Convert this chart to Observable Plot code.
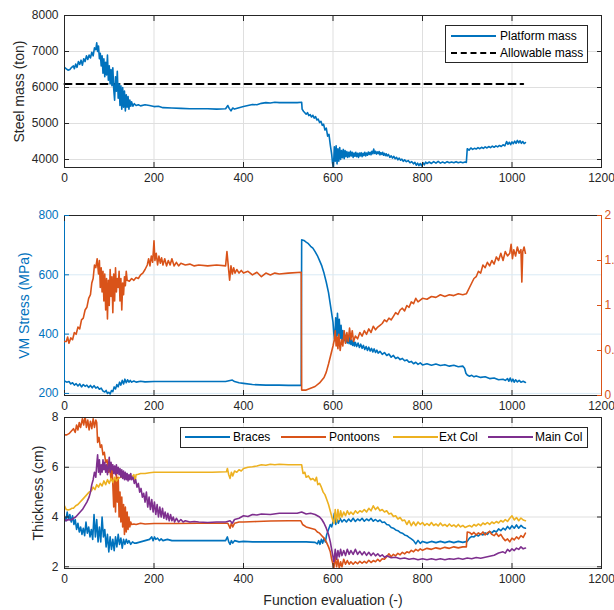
<!DOCTYPE html>
<html><head><meta charset="utf-8">
<script src="https://cdn.jsdelivr.net/npm/d3@7"></script>
<script src="https://cdn.jsdelivr.net/npm/@observablehq/plot@0.6"></script>
<style>
body{margin:0;background:#fff;font-family:"Liberation Sans",Arial,Helvetica,sans-serif;}
#wrap{position:relative;width:614px;height:610px;overflow:hidden;background:#fff;}
.panel{position:absolute;left:0;}
.legend{position:absolute;border:1px solid #262626;background:#fff;font-size:12px;color:#000;box-sizing:border-box;}
.legend .s{position:absolute;height:0;}
.legend .t{position:absolute;line-height:14px;white-space:nowrap;}
</style></head><body><div id="wrap"></div><script>
// ---------- data ----------
const xTicks = [0, 200, 400, 600, 800, 1000, 1200];
const massTicks = [4000, 5000, 6000, 7000, 8000];
const stressTicks = [200, 400, 600, 800];
const ratioTicks = [0, 0.5, 1, 1.5, 2];
const thickTicks = [2, 4, 6, 8];

const massNames = ["Platform mass", "Allowable mass"];
const allowableMass = 6100;
const allowableRange = [0, 1025];

const platformMass = [[0,6560],[4,6520],[8,6480],[12,6500],[16,6560],[20,6600],[22,6520],[25,6650],[28,6560],[31,6720],[34,6640],[37,6760],[40,6620],[43,6800],[46,6720],[49,6880],[52,6780],[55,6900],[58,6820],[61,6980],[64,6880],[67,7100],[70,7050],[72,7240],[74,7000],[76,7150],[78,6800],[80,6950],[82,6600],[84,6880],[86,6400],[88,6800],[90,6300],[92,6700],[94,6350],[96,6900],[98,6200],[100,6600],[102,6100],[104,6500],[106,6050],[108,6550],[110,5950],[112,5650],[114,6300],[116,5900],[118,6450],[120,5700],[122,6100],[124,5500],[126,6050],[128,5400],[130,6000],[132,5450],[134,5900],[136,5350],[138,5800],[140,5450],[142,5750],[144,5400],[146,5650],[148,5480],[150,5600],[153,5480],[156,5550],[160,5500],[165,5520],[170,5490],[180,5520],[190,5500],[200,5470],[210,5480],[220,5440],[240,5430],[260,5420],[280,5410],[300,5410],[320,5410],[340,5400],[360,5410],[365,5500],[368,5420],[372,5350],[376,5430],[380,5400],[390,5440],[400,5470],[410,5500],[420,5530],[430,5520],[440,5560],[450,5580],[460,5570],[470,5590],[480,5580],[500,5580],[520,5580],[530,5590],[531,5400],[534,5340],[537,5300],[540,5260],[543,5300],[546,5220],[549,5250],[552,5180],[555,5230],[558,5150],[561,5190],[564,5100],[567,5120],[570,5030],[573,5060],[576,4950],[579,4980],[582,4820],[585,4870],[588,4650],[591,4700],[594,4400],[597,4150],[599,3900],[601,3790],[603,4350],[605,3950],[607,4380],[609,3880],[611,4300],[613,3950],[615,4330],[617,4000],[619,4250],[621,4050],[623,4280],[625,4020],[627,4250],[629,4080],[631,4220],[633,4060],[635,4200],[637,4080],[639,4230],[641,4100],[643,4200],[645,4060],[647,4180],[649,4090],[651,4200],[653,4080],[655,4170],[657,4060],[659,4180],[661,4100],[663,4190],[665,4080],[667,4170],[669,4110],[671,4200],[673,4100],[675,4180],[677,4120],[679,4210],[681,4140],[683,4200],[685,4130],[687,4230],[689,4160],[691,4290],[693,4170],[695,4230],[697,4150],[699,4210],[701,4160],[703,4220],[705,4130],[707,4190],[709,4140],[711,4200],[713,4120],[715,4170],[717,4110],[719,4160],[721,4100],[724,4140],[727,4060],[730,4100],[733,4040],[736,4090],[739,4020],[742,4060],[745,3990],[748,4040],[751,3980],[754,4010],[757,3950],[760,3990],[764,3940],[768,3970],[772,3910],[776,3940],[780,3880],[783,3920],[786,3840],[789,3900],[792,3830],[795,3890],[798,3820],[801,3910],[804,3850],[807,3930],[810,3890],[815,3930],[820,3890],[825,3940],[830,3900],[835,3950],[840,3900],[845,3930],[850,3900],[855,3940],[860,3910],[865,3930],[870,3910],[875,3940],[880,3910],[885,3930],[890,3910],[895,3930],[898,3920],[900,4300],[904,4260],[908,4320],[912,4280],[916,4310],[920,4290],[924,4330],[928,4300],[932,4340],[936,4310],[940,4350],[944,4320],[948,4360],[952,4330],[956,4370],[960,4340],[964,4380],[968,4350],[972,4390],[976,4360],[980,4410],[984,4380],[988,4500],[991,4420],[994,4480],[997,4410],[1000,4490],[1003,4440],[1006,4510],[1009,4450],[1012,4530],[1015,4460],[1018,4520],[1021,4450],[1024,4500],[1027,4440],[1030,4470]];

const vmStress = [[0,242],[5,238],[10,240],[14,232],[18,236],[22,228],[26,233],[30,225],[34,232],[38,222],[42,230],[46,224],[50,228],[54,220],[58,227],[62,219],[66,226],[70,218],[74,222],[78,214],[82,218],[86,208],[90,205],[93,210],[96,200],[99,204],[102,198],[105,210],[108,206],[111,222],[114,215],[117,230],[120,222],[123,238],[126,228],[129,244],[132,232],[135,248],[138,236],[141,246],[144,238],[147,244],[150,238],[155,242],[160,238],[170,241],[180,239],[200,240],[240,240],[280,240],[320,240],[360,240],[375,245],[380,240],[390,236],[400,234],[420,230],[450,228],[480,228],[500,227],[529,227],[530,718],[535,716],[540,710],[545,705],[550,696],[555,690],[560,678],[565,665],[570,648],[575,630],[580,605],[585,575],[590,540],[595,490],[600,440],[602,400],[604,378],[606,455],[608,390],[610,470],[612,395],[614,450],[616,385],[618,430],[620,380],[622,412],[624,378],[626,400],[628,372],[630,395],[632,370],[634,388],[636,368],[638,392],[640,365],[642,380],[644,362],[646,376],[648,360],[650,372],[653,358],[656,370],[659,355],[662,366],[665,352],[668,362],[671,348],[674,358],[677,345],[680,356],[683,343],[686,352],[689,340],[692,350],[695,338],[698,346],[701,336],[705,342],[710,332],[715,338],[720,328],[725,333],[730,322],[735,328],[740,318],[745,322],[750,314],[755,318],[760,310],[765,313],[770,305],[775,308],[780,300],[785,305],[790,298],[795,303],[800,296],[810,300],[820,295],[830,299],[840,294],[850,297],[860,292],[870,295],[880,290],[890,292],[894,285],[897,268],[900,262],[905,258],[910,261],[915,256],[920,259],[930,254],[940,256],[950,250],[960,252],[970,246],[980,248],[985,244],[990,250],[993,241],[996,252],[999,240],[1002,248],[1005,238],[1008,246],[1012,239],[1016,244],[1020,238],[1025,241],[1030,237]];

const stressRatio = [[0,0.6],[4,0.6],[7,0.65],[10,0.58],[14,0.64],[18,0.62],[22,0.7],[26,0.68],[30,0.76],[34,0.74],[38,0.84],[42,0.86],[46,0.95],[50,0.98],[54,1.08],[58,1.12],[61,1.25],[64,1.3],[67,1.45],[70,1.42],[73,1.52],[76,1.35],[78,1.5],[80,1.2],[82,1.42],[84,1.15],[86,1.38],[88,1.05],[90,1.35],[92,0.95],[94,1.3],[96,0.85],[98,1.28],[100,1.0],[102,1.4],[104,1.1],[106,1.32],[108,0.92],[110,1.35],[112,1.05],[114,1.42],[116,1.15],[118,1.3],[120,1.2],[122,1.38],[124,1.05],[126,1.3],[128,0.95],[130,1.25],[132,1.12],[134,1.32],[136,1.22],[138,1.38],[140,1.28],[145,1.27],[150,1.3],[155,1.28],[160,1.31],[165,1.3],[170,1.34],[175,1.36],[180,1.4],[185,1.45],[188,1.52],[191,1.44],[194,1.55],[197,1.48],[200,1.72],[202,1.5],[205,1.58],[208,1.45],[211,1.55],[214,1.47],[217,1.53],[220,1.45],[224,1.52],[228,1.44],[232,1.5],[236,1.45],[240,1.52],[245,1.44],[250,1.48],[255,1.44],[260,1.47],[270,1.45],[280,1.46],[290,1.44],[300,1.45],[320,1.44],[340,1.45],[360,1.44],[363,1.6],[366,1.44],[369,1.28],[372,1.44],[375,1.35],[378,1.42],[381,1.36],[385,1.4],[390,1.36],[395,1.39],[400,1.36],[410,1.38],[420,1.34],[430,1.37],[440,1.32],[450,1.36],[460,1.34],[470,1.36],[480,1.35],[500,1.36],[529,1.37],[530,0.06],[540,0.06],[550,0.08],[560,0.1],[570,0.14],[580,0.2],[585,0.26],[590,0.35],[595,0.45],[600,0.55],[603,0.62],[605,0.72],[607,0.55],[609,0.65],[611,0.52],[613,0.68],[616,0.5],[619,0.62],[622,0.55],[625,0.72],[628,0.58],[631,0.7],[634,0.6],[637,0.75],[640,0.62],[643,0.72],[646,0.6],[650,0.66],[655,0.63],[660,0.7],[665,0.66],[670,0.72],[675,0.68],[680,0.74],[685,0.7],[690,0.77],[695,0.73],[700,0.76],[705,0.78],[710,0.8],[715,0.84],[720,0.82],[725,0.86],[730,0.84],[735,0.88],[740,0.92],[745,0.9],[750,0.95],[755,0.97],[760,0.94],[765,1.0],[770,0.98],[775,1.04],[780,1.02],[785,1.08],[790,1.04],[795,1.06],[800,1.08],[810,1.07],[820,1.1],[830,1.09],[840,1.12],[850,1.1],[860,1.12],[870,1.11],[880,1.13],[890,1.12],[898,1.13],[905,1.2],[910,1.25],[915,1.3],[920,1.32],[925,1.38],[930,1.36],[935,1.45],[940,1.42],[945,1.48],[950,1.44],[955,1.5],[960,1.46],[965,1.54],[970,1.5],[975,1.58],[980,1.5],[985,1.6],[990,1.55],[995,1.58],[998,1.68],[1001,1.52],[1004,1.62],[1008,1.55],[1012,1.65],[1016,1.58],[1020,1.62],[1022,1.26],[1024,1.6],[1027,1.65],[1030,1.58]];

const thicknessNames = ["Braces", "Pontoons", "Ext Col", "Main Col"];

const braces = [[0,4.0],[3,3.85],[6,4.2],[9,3.9],[12,4.1],[15,3.8],[18,4.05],[21,3.7],[24,3.9],[27,3.5],[30,3.75],[33,3.4],[36,3.6],[39,3.3],[42,3.55],[45,3.25],[48,3.8],[51,3.35],[54,3.6],[57,3.2],[60,3.5],[63,3.1],[66,4.1],[69,3.2],[72,3.9],[75,3.0],[78,3.6],[81,3.0],[84,4.0],[87,3.2],[90,3.5],[93,2.8],[96,3.3],[99,2.6],[102,3.2],[105,2.7],[108,3.1],[111,2.65],[114,3.2],[117,2.8],[120,3.3],[123,2.9],[126,3.15],[129,2.75],[132,3.1],[135,2.9],[138,3.1],[141,2.95],[144,3.05],[148,2.9],[152,3.0],[156,2.95],[160,2.95],[170,3.0],[180,3.05],[190,3.1],[195,3.2],[198,3.05],[201,3.2],[204,3.1],[208,3.15],[212,3.05],[216,3.12],[220,3.05],[230,3.1],[240,3.05],[260,3.05],[280,3.05],[300,3.05],[330,3.05],[360,3.05],[364,3.2],[367,3.0],[370,2.9],[373,3.05],[376,2.95],[380,3.05],[390,3.0],[400,3.02],[420,3.0],[450,3.0],[480,3.0],[520,3.0],[540,3.0],[560,2.98],[565,2.92],[568,3.05],[571,2.9],[574,3.1],[577,2.95],[580,3.15],[583,3.0],[586,3.3],[590,3.5],[594,3.7],[597,3.6],[600,3.8],[603,4.15],[606,3.7],[609,3.9],[612,3.75],[616,3.95],[620,3.8],[625,3.9],[630,3.8],[635,3.92],[640,3.82],[645,3.95],[650,3.82],[655,3.92],[660,3.85],[665,3.95],[670,3.83],[675,3.92],[680,3.85],[685,3.95],[690,3.83],[695,3.9],[700,3.82],[705,3.88],[710,3.78],[715,3.8],[720,3.7],[725,3.68],[730,3.58],[735,3.55],[740,3.48],[745,3.45],[750,3.38],[755,3.35],[760,3.28],[765,3.25],[770,3.18],[775,3.12],[780,3.05],[785,2.92],[790,3.06],[795,2.94],[800,3.02],[810,2.96],[820,3.02],[830,2.97],[840,3.02],[850,2.97],[860,3.02],[870,2.97],[880,3.02],[890,2.98],[900,3.02],[905,3.15],[910,3.22],[915,3.2],[920,3.28],[925,3.24],[930,3.32],[935,3.28],[940,3.36],[945,3.3],[950,3.42],[955,3.36],[960,3.45],[965,3.4],[970,3.52],[975,3.45],[980,3.55],[985,3.48],[990,3.62],[995,3.52],[1000,3.65],[1005,3.55],[1010,3.68],[1015,3.55],[1020,3.66],[1025,3.58],[1030,3.55]];

const pontoons = [[0,7.3],[5,7.3],[10,7.35],[15,7.45],[20,7.55],[24,7.4],[27,7.7],[30,7.5],[33,7.8],[36,7.6],[40,7.95],[43,7.7],[46,8.05],[49,7.6],[52,7.9],[55,7.5],[58,7.85],[61,7.55],[64,7.95],[67,7.6],[70,7.9],[72,7.8],[74,7.0],[77,7.2],[80,6.8],[83,6.9],[86,6.5],[89,6.6],[92,6.2],[95,6.3],[98,5.8],[101,6.0],[104,5.5],[106,6.1],[108,5.3],[110,4.4],[112,5.5],[114,4.2],[116,5.8],[118,4.6],[120,5.6],[122,4.0],[124,5.0],[126,3.8],[128,4.8],[130,3.6],[132,4.5],[134,3.3],[136,4.4],[138,3.4],[140,4.2],[142,3.5],[144,4.0],[146,3.6],[148,3.8],[150,3.7],[155,3.72],[160,3.7],[170,3.75],[180,3.72],[200,3.74],[250,3.74],[300,3.75],[350,3.75],[365,3.75],[370,3.55],[373,3.75],[376,3.6],[380,3.75],[390,3.8],[400,3.8],[430,3.82],[460,3.84],[500,3.85],[528,3.85],[532,3.7],[540,3.6],[550,3.55],[560,3.5],[565,3.4],[570,3.35],[575,3.25],[580,3.15],[585,3.0],[590,2.8],[594,2.6],[597,2.3],[600,2.1],[602,1.95],[605,2.4],[608,2.0],[611,2.3],[614,1.95],[617,2.2],[620,2.0],[624,2.3],[628,2.1],[632,2.25],[636,2.1],[640,2.2],[645,2.1],[650,2.2],[655,2.12],[660,2.22],[665,2.14],[670,2.22],[675,2.15],[680,2.26],[685,2.17],[690,2.25],[695,2.2],[700,2.3],[705,2.22],[710,2.32],[715,2.3],[720,2.4],[725,2.52],[730,2.4],[735,2.5],[740,2.44],[745,2.54],[750,2.48],[755,2.58],[760,2.52],[765,2.6],[770,2.56],[775,2.66],[780,2.6],[785,2.7],[790,2.64],[795,2.72],[800,2.66],[810,2.74],[820,2.7],[830,2.76],[840,2.72],[850,2.78],[860,2.74],[870,2.8],[880,2.76],[890,2.8],[898,2.8],[900,3.4],[905,3.38],[910,3.3],[915,3.38],[920,3.28],[925,3.36],[930,3.3],[935,3.4],[940,3.28],[945,3.36],[950,3.42],[955,3.3],[960,3.25],[965,3.35],[970,3.22],[975,3.3],[980,3.15],[985,3.05],[990,3.12],[995,3.0],[1000,3.15],[1005,3.08],[1010,3.2],[1015,3.12],[1020,3.25],[1025,3.18],[1030,3.35]];

const extCol = [[0,4.45],[4,4.3],[8,4.28],[12,4.3],[16,4.35],[20,4.35],[25,4.45],[30,4.5],[35,4.6],[40,4.7],[45,4.8],[50,4.9],[55,5.0],[60,5.05],[64,5.2],[68,5.1],[72,5.3],[76,5.2],[80,5.35],[84,5.25],[88,5.45],[92,5.3],[96,5.5],[100,5.35],[104,5.55],[108,5.4],[112,5.6],[116,5.45],[120,5.55],[125,5.6],[130,5.6],[135,5.62],[140,5.6],[145,5.65],[150,5.6],[155,5.7],[158,5.45],[160,5.7],[165,5.72],[170,5.75],[180,5.75],[190,5.78],[200,5.8],[220,5.8],[250,5.8],[300,5.8],[330,5.8],[362,5.82],[364,5.95],[367,5.7],[370,5.55],[373,5.8],[376,5.65],[380,5.85],[385,5.8],[390,5.9],[395,5.85],[400,5.95],[410,6.0],[420,6.02],[430,6.05],[440,6.1],[450,6.08],[460,6.12],[470,6.1],[480,6.12],[500,6.1],[520,6.1],[530,6.1],[533,5.75],[537,5.8],[540,5.6],[545,5.65],[550,5.5],[555,5.55],[560,5.45],[563,5.6],[566,5.3],[570,5.35],[574,5.2],[578,5.0],[582,4.9],[586,4.7],[590,4.5],[593,4.3],[596,4.1],[599,3.9],[602,3.75],[605,4.3],[608,3.8],[611,4.3],[614,3.9],[617,4.25],[620,4.0],[624,4.2],[628,4.05],[632,4.25],[636,4.1],[640,4.2],[645,4.1],[650,4.25],[655,4.15],[660,4.25],[665,4.2],[670,4.3],[675,4.2],[680,4.35],[685,4.25],[690,4.45],[695,4.3],[700,4.4],[705,4.25],[710,4.3],[715,4.2],[720,4.25],[725,4.12],[730,4.15],[735,4.02],[740,4.05],[745,3.92],[750,3.98],[755,3.85],[760,3.88],[765,3.7],[770,3.85],[775,3.65],[780,3.8],[785,3.65],[790,3.8],[795,3.7],[800,3.78],[805,3.66],[810,3.74],[815,3.66],[820,3.78],[825,3.66],[830,3.72],[835,3.64],[840,3.76],[845,3.65],[850,3.7],[855,3.62],[860,3.72],[865,3.63],[870,3.68],[875,3.6],[880,3.7],[885,3.6],[890,3.66],[895,3.58],[900,3.62],[905,3.66],[910,3.6],[915,3.7],[920,3.64],[925,3.72],[930,3.65],[935,3.76],[940,3.7],[945,3.78],[950,3.7],[955,3.8],[960,3.74],[965,3.82],[970,3.76],[975,3.86],[980,3.8],[985,3.9],[990,3.82],[995,3.95],[1000,4.05],[1005,3.88],[1010,3.98],[1015,3.85],[1020,3.96],[1025,3.88],[1030,3.85]];

const mainCol = [[0,3.9],[4,3.85],[8,3.9],[12,3.88],[16,3.9],[20,3.95],[25,4.0],[30,4.1],[35,4.2],[40,4.3],[45,4.45],[50,4.6],[55,4.8],[58,5.0],[61,5.3],[64,5.5],[67,5.8],[70,5.6],[72,6.1],[74,6.5],[76,5.8],[78,6.3],[80,5.7],[82,6.1],[84,5.8],[86,6.3],[88,5.9],[90,6.2],[92,5.8],[94,6.1],[96,5.7],[98,6.0],[100,6.4],[102,5.8],[104,6.2],[106,5.9],[108,6.1],[110,5.75],[112,6.05],[114,5.7],[116,6.1],[118,5.75],[120,6.0],[122,5.7],[124,5.95],[126,5.6],[128,5.9],[130,5.55],[132,5.85],[134,5.5],[136,5.8],[138,5.5],[140,5.75],[142,5.45],[144,5.7],[146,5.5],[148,5.75],[150,5.5],[153,5.6],[156,5.35],[159,5.5],[162,5.2],[165,5.35],[168,5.0],[171,5.15],[174,4.8],[177,4.95],[180,4.6],[183,5.0],[186,4.4],[189,4.8],[192,4.3],[195,4.7],[198,4.2],[201,4.6],[204,4.1],[207,4.5],[210,4.0],[213,4.4],[216,4.0],[219,4.35],[222,3.95],[225,4.2],[228,3.9],[231,4.15],[234,3.85],[237,4.1],[240,3.85],[243,4.0],[246,3.8],[250,3.95],[255,3.8],[260,3.9],[265,3.8],[270,3.85],[280,3.8],[290,3.82],[300,3.8],[320,3.78],[340,3.8],[360,3.8],[370,3.85],[375,3.75],[380,3.9],[390,3.95],[400,4.05],[410,4.02],[420,4.1],[430,4.08],[440,4.12],[460,4.1],[480,4.15],[500,4.15],[520,4.15],[530,4.2],[540,4.12],[550,4.15],[560,4.1],[565,4.05],[570,4.0],[575,3.9],[580,3.75],[585,3.55],[590,3.3],[594,3.0],[597,2.7],[600,2.4],[602,2.2],[605,2.7],[608,2.3],[611,2.65],[614,2.4],[617,2.7],[620,2.45],[624,2.65],[628,2.45],[632,2.7],[636,2.5],[640,2.65],[645,2.5],[650,2.7],[655,2.5],[660,2.62],[665,2.48],[670,2.6],[675,2.46],[680,2.58],[685,2.45],[690,2.55],[695,2.44],[700,2.52],[705,2.42],[710,2.48],[715,2.38],[720,2.44],[730,2.36],[740,2.38],[750,2.32],[760,2.35],[770,2.3],[780,2.33],[790,2.28],[800,2.32],[810,2.28],[820,2.32],[830,2.28],[840,2.32],[850,2.28],[860,2.32],[870,2.3],[880,2.34],[890,2.3],[900,2.35],[910,2.32],[920,2.37],[930,2.34],[940,2.38],[950,2.42],[960,2.46],[970,2.55],[980,2.6],[985,2.55],[990,2.7],[995,2.62],[1000,2.72],[1005,2.65],[1010,2.75],[1015,2.7],[1020,2.8],[1025,2.72],[1030,2.75]];

// ---------- styling ----------
const C = {blue:"#0072BD", orange:"#D95319", yellow:"#EDB120", purple:"#7E2F8E", ink:"#262626", grid:"#dfdfdf", gridBlue:"#d9eaf5"};
const FONT = '"Liberation Sans", Arial, Helvetica, sans-serif';
const W = 614, ML = 64, MR = 13, LW = 1.6;
const wrap = document.getElementById("wrap");

function place(svg, top) {
  svg.classList.add("panel");
  svg.style.top = top + "px";
  wrap.appendChild(svg);
}
function style() { return {fontFamily: FONT, fontSize: "12px", color: C.ink, background: "transparent", overflow: "hidden"}; }
const X = d => d[0], Y = d => d[1];

function xAxes() {
  return [
    Plot.axisX(xTicks, {anchor: "bottom", tickSize: -5, tickPadding: 11, tickFormat: d => String(d), label: null, stroke: C.ink, fill: C.ink}),
    Plot.axisX(xTicks, {anchor: "top", tickSize: -5, tickFormat: () => "", label: null, stroke: C.ink})
  ];
}
function yLabel(text, dx, color) {
  return Plot.text([text], {frameAnchor: "left", rotate: -90, dx: -dx, fontSize: 14, fill: color, text: d => d, textAnchor: "middle", lineAnchor: "middle"});
}

// ---------- panel 1: steel mass ----------
const massDomain = [3778, 8000];
place(Plot.plot({
  width: W, height: 195, marginTop: 15, marginBottom: 28, marginLeft: ML, marginRight: MR,
  x: {domain: [0, 1200]}, y: {domain: massDomain}, style: style(),
  marks: [
    Plot.gridX(xTicks, {stroke: C.grid, strokeOpacity: 1}),
    Plot.gridY(massTicks, {stroke: C.grid, strokeOpacity: 1}),
    Plot.line(allowableRange.map(x => [x, allowableMass]), {x: X, y: Y, stroke: "#000", strokeWidth: 2, strokeDasharray: "7,5"}),
    Plot.line(platformMass, {x: X, y: Y, stroke: C.blue, strokeWidth: LW, clip: true}),
    Plot.frame({stroke: C.ink}),
    ...xAxes(),
    Plot.axisY(massTicks, {anchor: "left", tickSize: -5, tickPadding: 11, tickFormat: d => String(d), label: null, stroke: C.ink, fill: C.ink}),
    Plot.axisY(massTicks, {anchor: "right", tickSize: -5, tickFormat: () => "", label: null, stroke: C.ink}),
    yLabel("Steel mass (ton)", 45, C.ink)
  ]
}), 0);

// ---------- panel 2: stress (two y scales) ----------
const stressDomain = [193, 800];
const ratioDomain = [0, 2];
place(Plot.plot({
  width: W, height: 215, marginTop: 15, marginBottom: 20, marginLeft: ML, marginRight: MR,
  x: {domain: [0, 1200]}, y: {domain: stressDomain}, style: style(),
  marks: [
    Plot.gridX(xTicks, {stroke: C.grid, strokeOpacity: 1}),
    Plot.gridY(stressTicks, {stroke: C.gridBlue, strokeOpacity: 1}),
    Plot.line(vmStress, {x: X, y: Y, stroke: C.blue, strokeWidth: LW, clip: true}),
    Plot.frame({stroke: C.ink}),
    Plot.ruleX([0], {stroke: C.blue}),
    ...xAxes(),
    Plot.axisY(stressTicks, {anchor: "left", tickSize: -5, tickPadding: 11, tickFormat: d => String(d), label: null, stroke: C.blue, fill: C.blue}),
    yLabel("VM Stress (MPa)", 40, C.blue)
  ]
}), 200);
place(Plot.plot({
  width: W, height: 215, marginTop: 15, marginBottom: 20, marginLeft: ML, marginRight: MR,
  x: {domain: [0, 1200]}, y: {domain: ratioDomain}, style: style(),
  marks: [
    Plot.line(stressRatio, {x: X, y: Y, stroke: C.orange, strokeWidth: LW, clip: true}),
    Plot.ruleX([1200], {stroke: C.orange}),
    Plot.axisX([], {anchor: "bottom", label: null}),
    Plot.axisY(ratioTicks, {anchor: "right", tickSize: -5, tickPadding: 8, tickFormat: d => String(d), label: null, stroke: C.orange, fill: C.orange})
  ]
}), 200);

// ---------- panel 3: thickness ----------
const thickDomain = [1.93, 8.0];
const thickSeries = [braces, pontoons, extCol, mainCol];
const thickColors = [C.blue, C.orange, C.yellow, C.purple];
place(Plot.plot({
  width: W, height: 210, marginTop: 17, marginBottom: 42, marginLeft: ML, marginRight: MR,
  x: {domain: [0, 1200]}, y: {domain: thickDomain}, style: style(),
  marks: [
    Plot.gridX(xTicks, {stroke: C.grid, strokeOpacity: 1}),
    Plot.gridY(thickTicks, {stroke: C.grid, strokeOpacity: 1}),
    ...thickSeries.map((s, i) => Plot.line(s, {x: X, y: Y, stroke: thickColors[i], strokeWidth: LW, clip: true})),
    Plot.frame({stroke: C.ink}),
    ...xAxes(),
    Plot.axisY(thickTicks, {anchor: "left", tickSize: -5, tickPadding: 11, tickFormat: d => String(d), label: null, stroke: C.ink, fill: C.ink}),
    Plot.axisY(thickTicks, {anchor: "right", tickSize: -5, tickFormat: () => "", label: null, stroke: C.ink}),
    yLabel("Thickness (cm)", 26, C.ink),
    Plot.text(["Function evaluation (-)"], {frameAnchor: "bottom", dy: 32, fontSize: 14, fill: C.ink, text: d => d, lineAnchor: "middle"})
  ]
}), 400);

// ---------- legends ----------
function legend(box, items) {
  const d = document.createElement("div");
  d.className = "legend";
  Object.assign(d.style, {left: box[0] + "px", top: box[1] + "px", width: box[2] + "px", height: box[3] + "px"});
  for (const it of items) {
    const s = document.createElement("div");
    s.className = "s";
    Object.assign(s.style, {left: it.lx + "px", top: (it.y - 1) + "px", width: it.lw + "px", borderTop: `2px ${it.dash ? "dashed" : "solid"} ${it.color}`});
    const t = document.createElement("div");
    t.className = "t";
    t.textContent = it.name;
    Object.assign(t.style, {left: it.tx + "px", top: (it.y - 7) + "px"});
    d.appendChild(s); d.appendChild(t);
  }
  wrap.appendChild(d);
}
legend([445, 25, 143, 38], [
  {name: massNames[0], color: C.blue, dash: false, lx: 5, lw: 45, tx: 54, y: 10},
  {name: massNames[1], color: "#000", dash: true, lx: 5, lw: 45, tx: 54, y: 27}
]);
const lx = [4, 100, 212, 307], tx = [52, 148, 258, 354];
legend([180, 427, 408, 21], thicknessNames.map((n, i) => ({name: n, color: thickColors[i], dash: false, lx: lx[i], lw: 45, tx: tx[i], y: 9})));
</script></body></html>
